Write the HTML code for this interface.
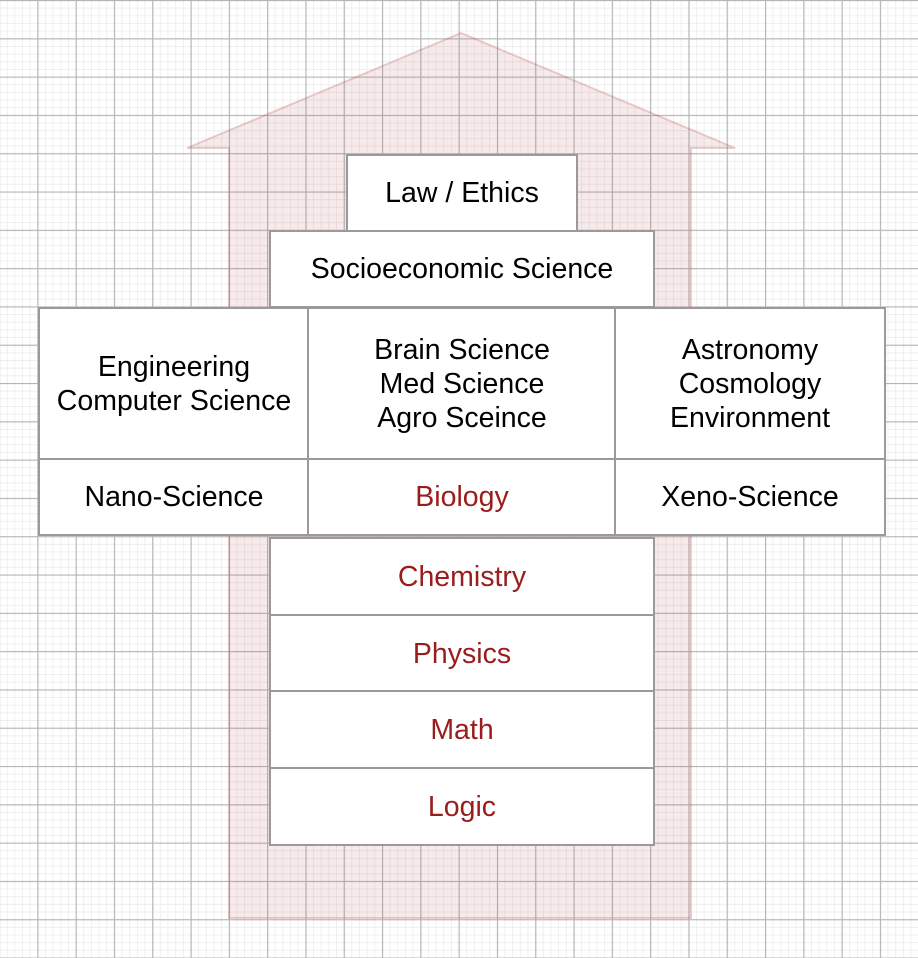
<!DOCTYPE html>
<html><head><meta charset="utf-8"><style>
body{margin:0;width:918px;height:958px;overflow:hidden;background:#fff;font-family:"Liberation Sans",Arial,sans-serif;}
.b{position:absolute;box-sizing:border-box;border:2px solid #9a9a9a;background:#fff;display:flex;align-items:center;justify-content:center;text-align:center;font-size:28.5px;line-height:34px;color:#000;}
.r{color:#9b1c1c;}
</style></head><body>
<svg width="918" height="958" style="position:absolute;left:0;top:0">
<defs>
<pattern id="mi" x="-1" y="0" width="7.66" height="7.66" patternUnits="userSpaceOnUse"><path d="M0 0H7.66M0 0V7.66" stroke="#ececec" stroke-width="1.6" fill="none"/></pattern>
<pattern id="ma" x="-1" y="0" width="38.3" height="38.3" patternUnits="userSpaceOnUse"><path d="M0 0.5H38.3M0.5 0V38.3" stroke="#b5b5b5" stroke-width="1.3" fill="none"/></pattern>
</defs>
<rect width="918" height="958" fill="url(#mi)"/>
<rect width="918" height="958" fill="url(#ma)"/>
<polygon points="187,148 461,33 735,148 691,148 691,918 229,918 229,148" fill="rgba(170,60,60,0.11)" stroke="rgba(180,70,70,0.25)" stroke-width="2"/>
</svg>
<div class="b" style="left:346px;top:154px;width:232px;height:78px">Law / Ethics</div>
<div class="b" style="left:269px;top:230px;width:386px;height:78px">Socioeconomic Science</div>
<div class="b" style="left:38px;top:307px;width:272px;height:154px">Engineering<br>Computer Science</div>
<div class="b" style="left:307px;top:307px;width:310px;height:154px">Brain Science<br>Med Science<br>Agro Sceince</div>
<div class="b" style="left:614px;top:307px;width:272px;height:154px">Astronomy<br>Cosmology<br>Environment</div>
<div class="b" style="left:38px;top:458px;width:272px;height:78px">Nano-Science</div>
<div class="b r" style="left:307px;top:458px;width:310px;height:78px">Biology</div>
<div class="b" style="left:614px;top:458px;width:272px;height:78px">Xeno-Science</div>
<div class="b r" style="left:269px;top:537px;width:386px;height:79px">Chemistry</div>
<div class="b r" style="left:269px;top:614px;width:386px;height:79px">Physics</div>
<div class="b r" style="left:269px;top:690px;width:386px;height:80px">Math</div>
<div class="b r" style="left:269px;top:767px;width:386px;height:79px">Logic</div>
</body></html>
